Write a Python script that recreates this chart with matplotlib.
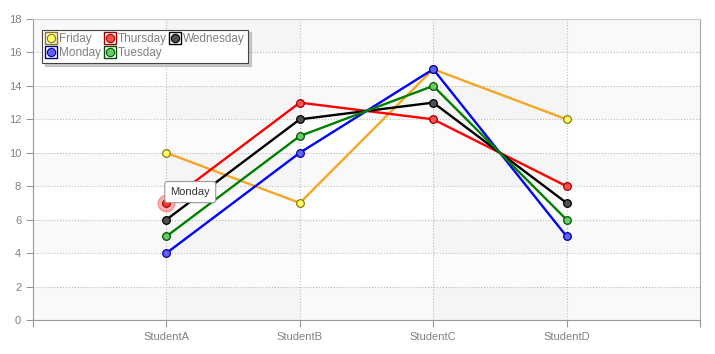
import matplotlib
matplotlib.use('Agg')
import matplotlib.pyplot as plt
from matplotlib.lines import Line2D
from matplotlib.legend_handler import HandlerTuple

plt.rcParams['font.family'] = ['Liberation Sans', 'DejaVu Sans']

students = ['StudentA', 'StudentB', 'StudentC', 'StudentD']
friday = [10, 7, 15, 12]
thursday = [7, 13, 12, 8]
wednesday = [6, 12, 13, 7]
monday = [4, 10, 15, 5]
tuesday = [5, 11, 14, 6]

# name, values, line colour, marker face, marker edge
series = [
    ('Friday', friday, '#f5a623', '#ffff66', '#8a7a00'),
    ('Thursday', thursday, '#ff0000', '#ff5050', '#9a0000'),
    ('Wednesday', wednesday, '#000000', '#505050', '#000000'),
    ('Monday', monday, '#0000ff', '#6060ff', '#00008a'),
    ('Tuesday', tuesday, '#008000', '#66cc66', '#005000'),
]

fig = plt.figure(figsize=(7.15, 3.54), dpi=100)
ax = fig.add_axes([33/715, 34/354, 667/715, 301/354])

x = list(range(len(students)))

# background bands
for y0 in range(0, 18, 4):
    ax.axhspan(y0, y0 + 2, color='black', alpha=0.025, lw=0, zorder=0)
for x0 in [0, 2]:
    ax.axvspan(x0, x0 + 1, color='black', alpha=0.015, lw=0, zorder=0)

ax.set_xlim(-1, 4)
ax.set_ylim(0, 18)
ax.set_yticks(range(0, 19, 2))
ax.set_xticks([-1, 0, 1, 2, 3, 4])
ax.set_xticklabels([''] + students + [''])
ax.grid(True, color='#bbbbbb', linestyle=':', linewidth=0.8, zorder=1)
ax.set_axisbelow(True)

for sp in ['left', 'bottom']:
    ax.spines[sp].set_color('#999999')
ax.spines['right'].set_color('#aaaaaa')
ax.spines['top'].set_color('#cccccc')
ax.tick_params(colors='#999999', labelcolor='#808080', labelsize=8, length=5)
ax.tick_params(axis='x', pad=4)

handles = {}
for name, vals, lc, fc, ec in series:
    ax.plot(x, vals, '-', color=lc, lw=1.7, zorder=3)
    ax.plot(x, vals, 'o', markersize=5.5, markerfacecolor=fc,
            markeredgecolor=ec, markeredgewidth=0.9, zorder=4)
    sq = Line2D([], [], marker='s', linestyle='none', markersize=8.5,
                markerfacecolor='white', markeredgecolor=ec, markeredgewidth=1)
    ci = Line2D([], [], marker='o', linestyle='none', markersize=6,
                markerfacecolor=fc, markeredgecolor=ec, markeredgewidth=0.8)
    handles[name] = (sq, ci)

# hovered point and tooltip
ax.plot([0], [thursday[0]], 'o', markersize=12, color='#ff0000', alpha=0.3, zorder=5)
ax.text(0.03, 7.65, 'Monday', fontsize=8, color='#333333', zorder=6, va='center',
        bbox=dict(boxstyle='round,pad=0.5,rounding_size=0.2', facecolor='white',
                  edgecolor='#999999', linewidth=0.8))

# column-wise fill so rows read Friday/Thursday/Wednesday, Monday/Tuesday
order = ['Friday', 'Monday', 'Thursday', 'Tuesday', 'Wednesday']
leg = ax.legend([handles[n] for n in order], order, ncol=3,
                handler_map={tuple: HandlerTuple(ndivide=1)},
                loc='upper left', bbox_to_anchor=(0.014, 0.965),
                fontsize=8.5, labelcolor='#808080', frameon=True, fancybox=False,
                shadow={'color': '#aaaaaa', 'alpha': 0.6}, borderpad=0.3,
                handlelength=0.9, handletextpad=0.2,
                columnspacing=0.3, labelspacing=0.2, borderaxespad=0)
leg.get_frame().set_edgecolor('#444444')
leg.get_frame().set_linewidth(0.8)

fig.savefig('out.png', dpi=100)
